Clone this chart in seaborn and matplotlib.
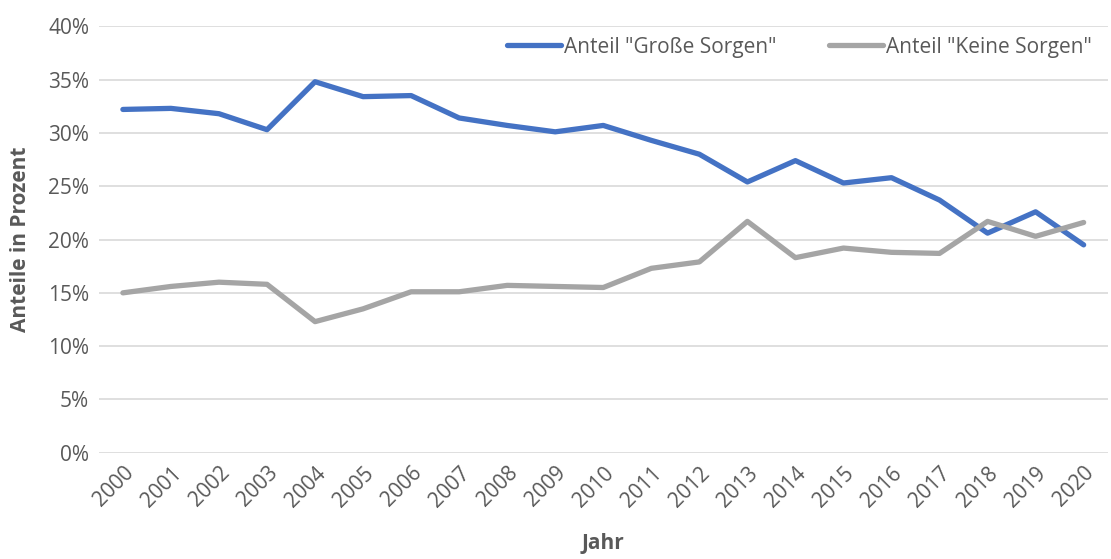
import pandas as pd
import seaborn as sns
import matplotlib.pyplot as plt
from matplotlib.ticker import PercentFormatter

# Daten
jahre = [str(j) for j in range(2000, 2021)]
grosse_sorgen = [32.2, 32.3, 31.8, 30.3, 34.8, 33.4, 33.5, 31.4, 30.7, 30.1, 30.7,
                 29.3, 28.0, 25.4, 27.4, 25.3, 25.8, 23.7, 20.6, 22.6, 19.5]
keine_sorgen = [15.0, 15.6, 16.0, 15.8, 12.3, 13.5, 15.1, 15.1, 15.7, 15.6, 15.5,
                17.3, 17.9, 21.7, 18.3, 19.2, 18.8, 18.7, 21.7, 20.3, 21.6]
serien = ['Anteil "Große Sorgen"', 'Anteil "Keine Sorgen"']

df = pd.DataFrame({
    "Jahr": jahre * 2,
    "Wert": grosse_sorgen + keine_sorgen,
    "Serie": [serien[0]] * len(jahre) + [serien[1]] * len(jahre),
})

sns.set_style("white")
plt.rcParams["font.family"] = ["Open Sans", "DejaVu Sans"]
textfarbe = "#595959"

fig = plt.figure(figsize=(11.11, 5.59), dpi=100)
ax = fig.add_axes([0.089, 0.19, 0.908, 0.763])

sns.lineplot(data=df, x="Jahr", y="Wert", hue="Serie", hue_order=serien,
             palette=["#4472C4", "#A5A5A5"], linewidth=3.8, ax=ax, sort=False)

ax.set_ylim(0, 40)
ax.set_xlim(-0.5, len(jahre) - 0.5)
ax.set_yticks(range(0, 41, 5))
ax.yaxis.set_major_formatter(PercentFormatter(decimals=0))
ax.grid(axis="y", color="#D9D9D9", linewidth=1.2)
ax.set_axisbelow(True)
for s in ax.spines.values():
    s.set_visible(False)
ax.tick_params(axis="both", length=0, labelsize=15, colors=textfarbe, pad=7)
plt.setp(ax.get_xticklabels(), rotation=45, ha="right", rotation_mode="anchor")

ax.set_xlabel("Jahr", fontsize=15, fontweight="bold", color=textfarbe, labelpad=16)
ax.set_ylabel("Anteile in Prozent", fontsize=15, fontweight="bold", color=textfarbe, labelpad=12)

leg = ax.legend(loc="upper right", bbox_to_anchor=(0.995, 1.0), ncol=2, frameon=False,
                fontsize=15, handlelength=2.6, columnspacing=2.5, handletextpad=0.15,
                borderaxespad=0.1)
for t in leg.get_texts():
    t.set_color(textfarbe)

plt.savefig("out.png", dpi=100)
